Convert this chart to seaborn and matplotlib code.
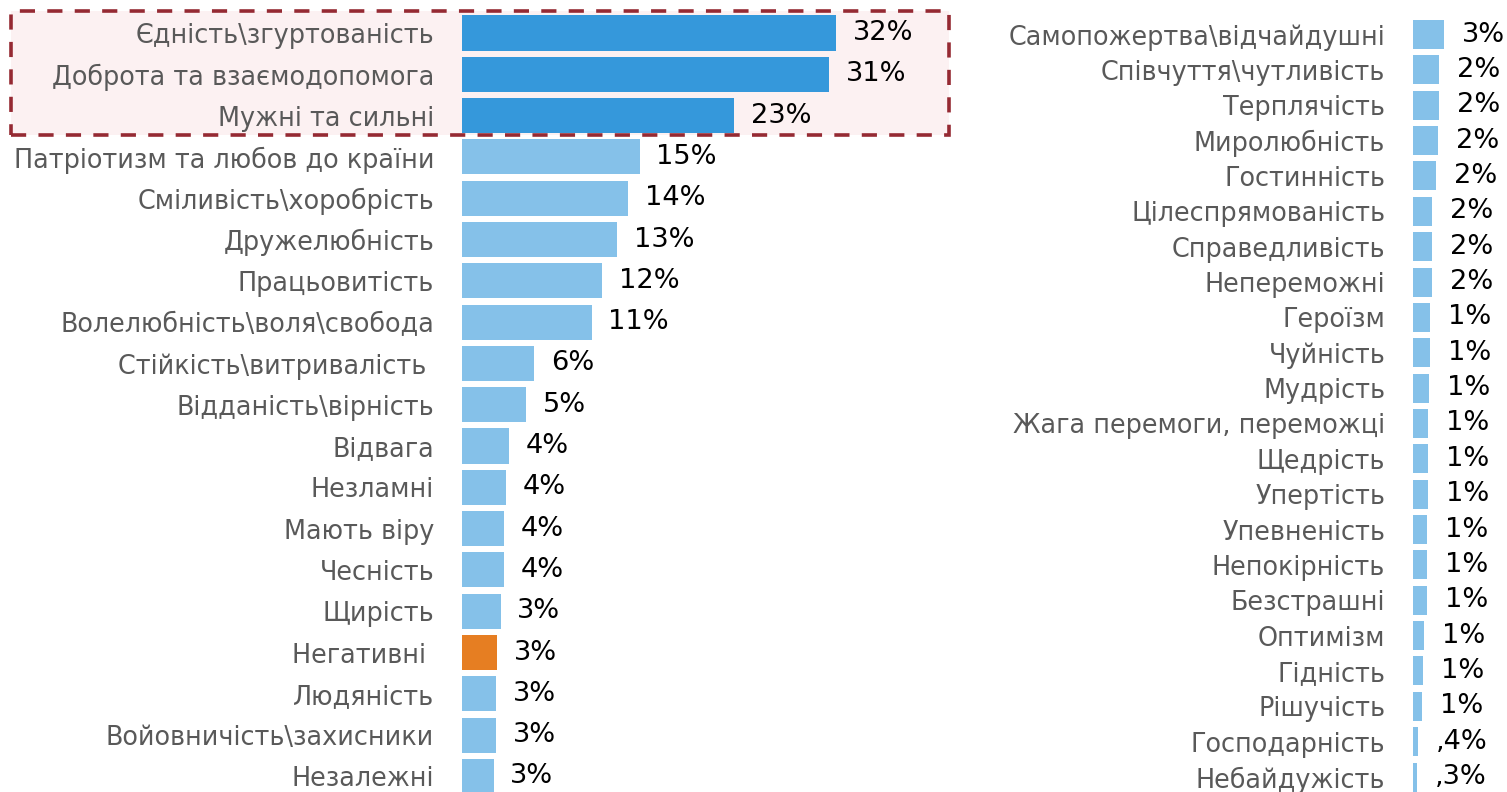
import numpy as np
import pandas as pd
import matplotlib
matplotlib.use("Agg")
import matplotlib.pyplot as plt
import seaborn as sns
from matplotlib.patches import Rectangle

# left panel
left_labels = ["Єдність\\згуртованість", "Доброта та взаємодопомога", "Мужні та сильні",
               "Патріотизм та любов до країни", "Сміливість\\хоробрість", "Дружелюбність",
               "Працьовитість", "Волелюбність\\воля\\свобода", "Стійкість\\витривалість ",
               "Відданість\\вірність", "Відвага", "Незламні", "Мають віру", "Чесність",
               "Щирість", "Негативні ", "Людяність", "Войовничість\\захисники", "Незалежні"]
left_values = [32.0, 31.4, 23.3, 15.2, 14.2, 13.3, 12.0, 11.1, 6.2, 5.5,
               4.0, 3.8, 3.6, 3.6, 3.3, 3.0, 2.9, 2.9, 2.7]
left_text = ["32%", "31%", "23%", "15%", "14%", "13%", "12%", "11%", "6%", "5%",
             "4%", "4%", "4%", "4%", "3%", "3%", "3%", "3%", "3%"]
left_group = ["top"] * 3 + ["other"] * 12 + ["neg"] + ["other"] * 3

# right panel
right_labels = ["Самопожертва\\відчайдушні", "Співчуття\\чутливість", "Терплячість",
                "Миролюбність", "Гостинність", "Цілеспрямованість", "Справедливість",
                "Непереможні", "Героїзм", "Чуйність", "Мудрість", "Жага перемоги, переможці",
                "Щедрість", "Упертість", "Упевненість", "Непокірність", "Безстрашні",
                "Оптимізм", "Гідність", "Рішучість", "Господарність", "Небайдужість"]
right_values = [2.65, 2.2, 2.2, 2.1, 2.0, 1.6, 1.6, 1.6, 1.45, 1.45, 1.4, 1.3,
                1.3, 1.3, 1.2, 1.2, 1.2, 0.9, 0.85, 0.8, 0.4, 0.3]
right_text = ["3%", "2%", "2%", "2%", "2%", "2%", "2%", "2%", "1%", "1%", "1%", "1%",
              "1%", "1%", "1%", "1%", "1%", "1%", "1%", "1%", ",4%", ",3%"]

colors = {"top": "#3598DB", "other": "#85C1E9", "neg": "#E67E22"}
label_color = "#595959"
fs_label = 18.4
fs_value = 19.6

W, H = 1507, 792
px_per_pct = 11.69

fig = plt.figure(figsize=(W / 100, H / 100), dpi=100)
fig.patch.set_facecolor("white")

# highlight box around the top three answers
fig.patches.append(Rectangle((11 / W, 1 - 135 / H), (949 - 11) / W, (135 - 11) / H,
                             transform=fig.transFigure, facecolor="#FCF1F2",
                             edgecolor="#952A33", linewidth=2.6,
                             linestyle=(0, (4.2, 3.4)), zorder=-1))


def panel(ax, labels, values, texts, groups, xmax, width, pad, y0, step):
    df = pd.DataFrame({"label": labels, "value": values, "grp": groups})
    pal = {lab: colors[g] for lab, g in zip(labels, groups)}
    sns.barplot(data=df, x="value", y="label", hue="label", palette=pal,
                legend=False, width=width, ax=ax, saturation=1, linewidth=0)
    for cont, t in zip(ax.containers, texts):
        ax.bar_label(cont, labels=[t], padding=pad, fontsize=fs_value, color="black")
    ax.set_xlim(0, xmax)
    ax.set_ylim((H - y0) / step, -y0 / step)
    ax.set_xlabel("")
    ax.set_ylabel("")
    ax.set_xticks([])
    ax.tick_params(axis="y", length=0, pad=20, labelsize=fs_label, labelcolor=label_color)
    for s in ax.spines.values():
        s.set_visible(False)
    ax.patch.set_alpha(0)


left_max = 40
ax1 = fig.add_axes([462 / W, 0, left_max * px_per_pct / W, 1])
panel(ax1, left_labels, left_values, left_text, left_group, left_max, 0.85, 12, 33, 41.3)

right_max = 7.5
ax2 = fig.add_axes([1413 / W, 0, right_max * px_per_pct / W, 1])
panel(ax2, right_labels, right_values, right_text, ["other"] * len(right_labels),
      right_max, 0.82, 13, 34.5, 35.36)

fig.savefig("out.png", dpi=100)
